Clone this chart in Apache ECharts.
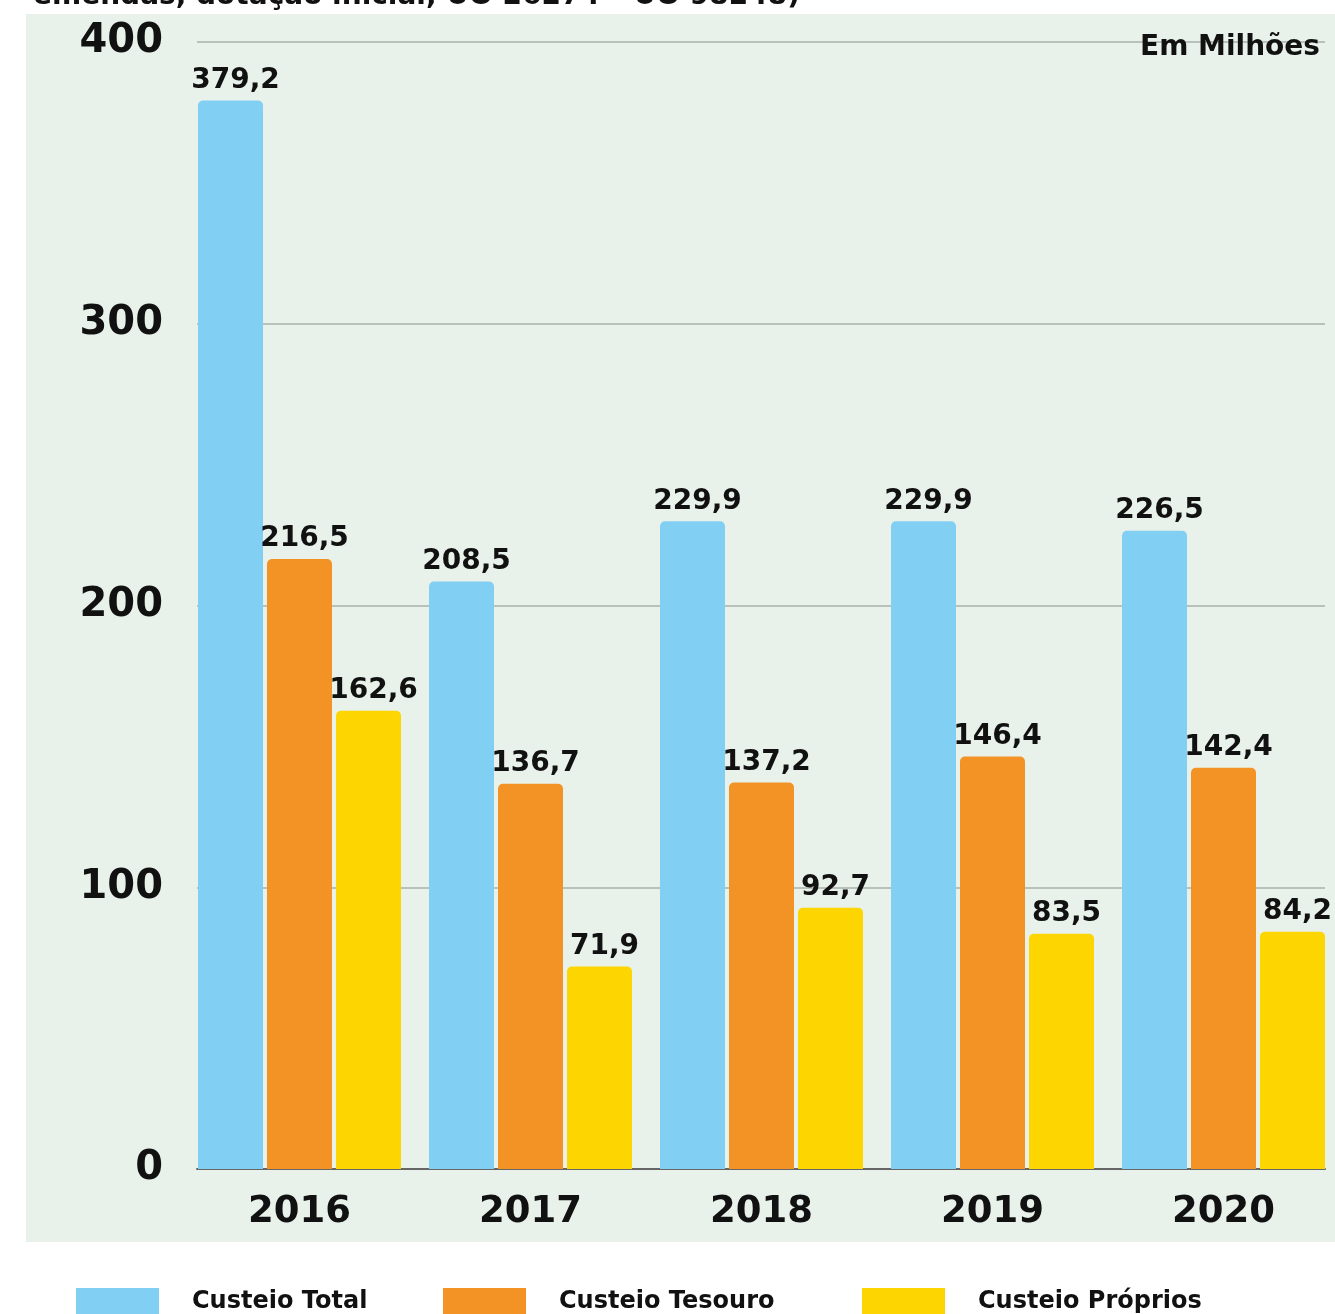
<!DOCTYPE html>
<html>
<head>
<meta charset="utf-8">
<script src="https://cdn.jsdelivr.net/npm/echarts@6/dist/echarts.min.js"></script>
<style>
html,body{margin:0;padding:0;background:#fff;}
#chart{width:1335px;height:1314px;}
</style>
</head>
<body>
<div id="chart"></div>
<script>
const categories = ['2016', '2017', '2018', '2019', '2020'];
const seriesNames = ['Custeio Total', 'Custeio Tesouro', 'Custeio Próprios'];
const custeioTotal = [379.2, 208.5, 229.9, 229.9, 226.5];
const custeioTesouro = [216.5, 136.7, 137.2, 146.4, 142.4];
const custeioProprios = [162.6, 71.9, 92.7, 83.5, 84.2];
const yTicks = [0, 100, 200, 300, 400];
const unitLabel = 'Em Milhões';
const titleFragment = 'emendas, dotação inicial, UO 26274 – UO 98248)';

const FONT = 'DejaVu Sans';
const colors = ['#82CFF4', '#F39326', '#FDD500'];
const seriesData = [custeioTotal, custeioTesouro, custeioProprios];

const chart = echarts.init(document.getElementById('chart'), null, {renderer: 'canvas'});

const series = seriesData.map((d, i) => ({
  name: seriesNames[i],
  type: 'bar',
  xAxisIndex: 0,
  yAxisIndex: 0,
  data: d,
  barWidth: 65,
  barGap: '6.15%',
  itemStyle: {color: colors[i], borderRadius: [5, 5, 0, 0]},
  label: {
    show: true,
    position: 'top',
    distance: 6,
    offset: [5, 0],
    color: '#111',
    fontFamily: FONT,
    fontWeight: 'bold',
    fontSize: 28,
    formatter: p => p.value.toFixed(1).replace('.', ',')
  },
  z: 3
}));

const legendLefts = [71, 438, 857];
const legends = seriesNames.map((n, i) => ({
  data: [n],
  left: legendLefts[i],
  top: 1283,
  orient: 'horizontal',
  icon: 'rect',
  itemWidth: 83,
  itemHeight: 28,
  selectedMode: false,
  textStyle: {fontFamily: FONT, fontWeight: 'bold', fontSize: 24, color: '#111', padding: [0, 0, 0, 28]}
}));

chart.setOption({
  animation: false,
  backgroundColor: '#ffffff',
  color: colors,
  graphic: [
    {type: 'rect', z: -10, shape: {x: 26, y: 14, width: 1309, height: 1228}, style: {fill: '#E8F1EA'}},
    {type: 'text', left: 33, top: -17, z: 10,
      style: {text: titleFragment, fontFamily: FONT, fontWeight: 'bold', fontSize: 28, fill: '#111'}},
    {type: 'text', right: 15, top: 34, z: 10,
      style: {text: unitLabel, fontFamily: FONT, fontWeight: 'bold', fontSize: 28, fill: '#111'}}
  ],
  legend: legends,
  grid: [
    {left: 184, width: 1155, top: 42, bottom: 145, outerBoundsMode: 'none', containLabel: false},
    {left: 197, right: 10, top: 42, bottom: 145, outerBoundsMode: 'none', containLabel: false}
  ],
  xAxis: [
    {
      type: 'category', gridIndex: 0, data: categories,
      axisLine: {show: false}, axisTick: {show: false},
      axisLabel: {fontFamily: FONT, fontWeight: 'bold', fontSize: 37, color: '#111', margin: 25}
    },
    {
      type: 'category', gridIndex: 1, data: categories,
      axisLine: {show: true, lineStyle: {color: '#666', width: 2}},
      axisTick: {show: false}, axisLabel: {show: false}
    }
  ],
  yAxis: [
    {type: 'value', gridIndex: 0, min: 0, max: 400, interval: 100, show: false, splitLine: {show: false}},
    {
      type: 'value', gridIndex: 1, min: yTicks[0], max: yTicks[yTicks.length - 1], interval: 100,
      axisLine: {show: false}, axisTick: {show: false},
      axisLabel: {fontFamily: FONT, fontWeight: 'bold', fontSize: 40, color: '#111', margin: 34},
      splitLine: {show: true, lineStyle: {color: '#A9B0AA', width: 1.5}}
    }
  ],
  series: series
});
</script>
</body>
</html>
